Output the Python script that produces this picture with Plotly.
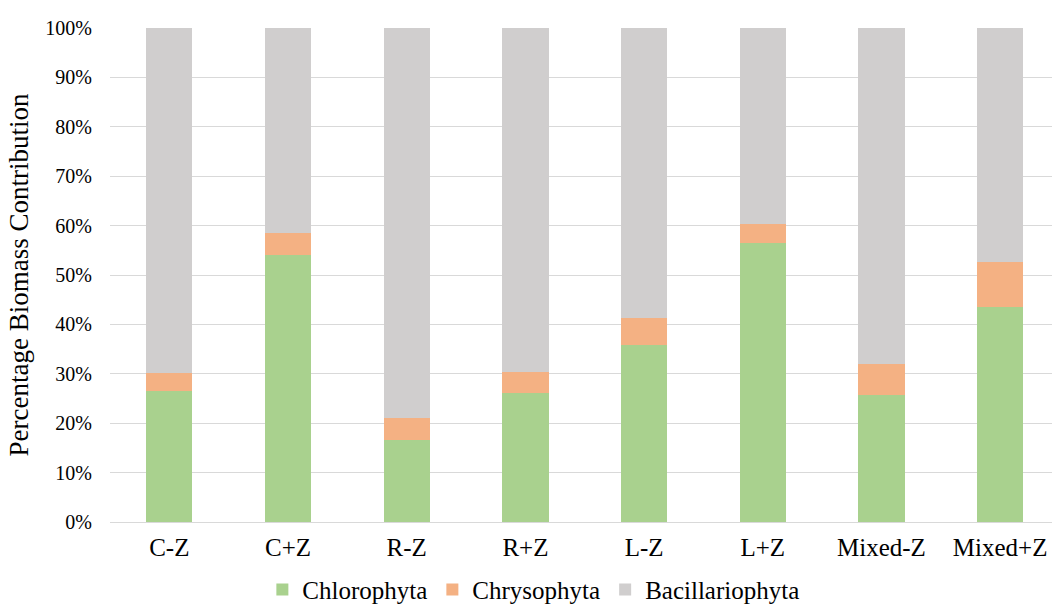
import plotly.graph_objects as go

categories = ["C-Z", "C+Z", "R-Z", "R+Z", "L-Z", "L+Z", "Mixed-Z", "Mixed+Z"]
chlorophyta = [0.266, 0.541, 0.165, 0.262, 0.359, 0.564, 0.257, 0.436]
chrysophyta = [0.035, 0.045, 0.046, 0.041, 0.054, 0.040, 0.063, 0.091]
bacillariophyta = [1 - a - b for a, b in zip(chlorophyta, chrysophyta)]
y_ticks = [0, 0.1, 0.2, 0.3, 0.4, 0.5, 0.6, 0.7, 0.8, 0.9, 1.0]

series = [
    ("Chlorophyta", chlorophyta, "#a9d18e"),
    ("Chrysophyta", chrysophyta, "#f4b183"),
    ("Bacillariophyta", bacillariophyta, "#d0cece"),
]

fig = go.Figure()
for name, vals, color in series:
    fig.add_trace(go.Bar(x=categories, y=vals, name=name,
                         marker=dict(color=color, line=dict(width=0))))

font_family = "Times New Roman, Liberation Serif, serif"
fig.update_layout(
    barmode="stack",
    bargap=0.61,
    width=1052, height=606,
    margin=dict(l=110, r=0, t=28, b=84, autoexpand=False),
    paper_bgcolor="white", plot_bgcolor="white",
    font=dict(family=font_family, color="#000000", size=20),
    legend=dict(orientation="h", xref="container", yref="paper",
                x=0.507, xanchor="center", y=-0.137, yanchor="middle",
                traceorder="normal",
                font=dict(size=25, family=font_family),
                itemwidth=30, tracegroupgap=0),
    xaxis=dict(range=[-0.5, 7.437], showgrid=False, showline=True,
               linecolor="#d9d9d9", linewidth=1, ticks="",
               tickfont=dict(size=25, family=font_family), ticklabelstandoff=3),
    yaxis=dict(range=[0, 1], tickvals=y_ticks, tickformat=".0%",
               showgrid=True, gridcolor="#d9d9d9", gridwidth=1,
               zeroline=False, showline=False, ticks="",
               tickfont=dict(size=20, family=font_family), ticklabelstandoff=17,
               title=dict(text="Percentage Biomass Contribution",
                          font=dict(size=27, family=font_family), standoff=8)),
)

fig.write_html("out.html")
